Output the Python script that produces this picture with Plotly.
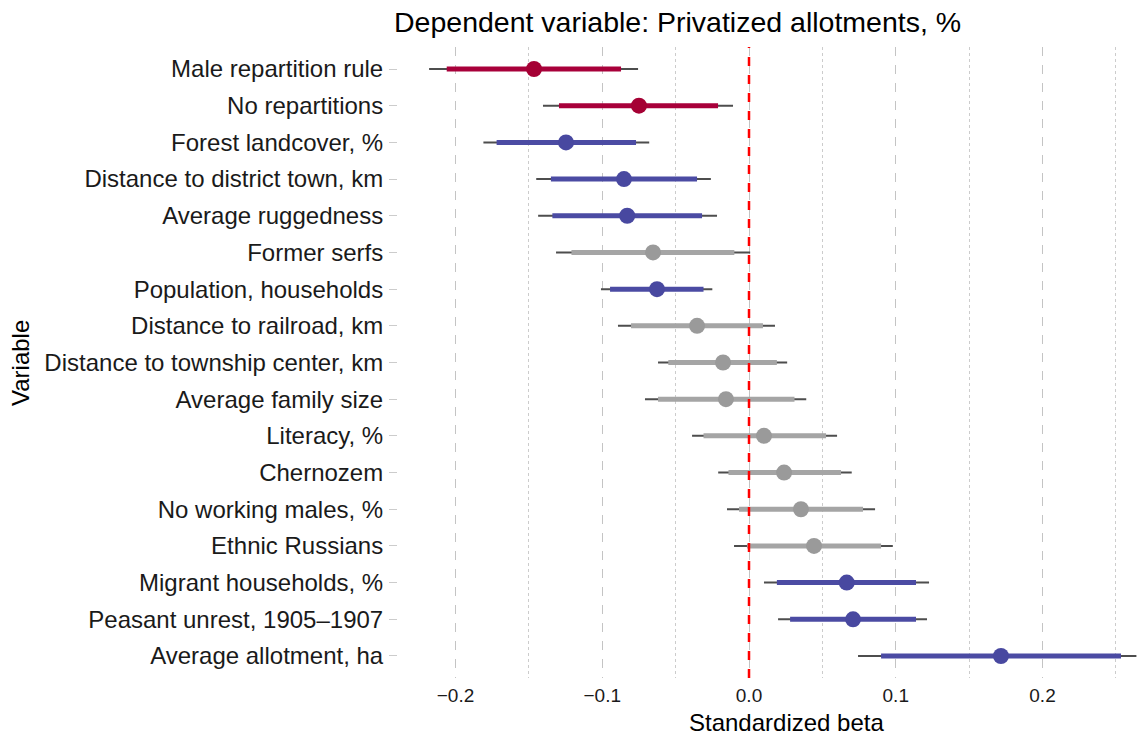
import plotly.graph_objects as go

variables = [
    "Male repartition rule", "No repartitions", "Forest landcover, %",
    "Distance to district town, km", "Average ruggedness", "Former serfs",
    "Population, households", "Distance to railroad, km",
    "Distance to township center, km", "Average family size", "Literacy, %",
    "Chernozem", "No working males, %", "Ethnic Russians",
    "Migrant households, %", "Peasant unrest, 1905–1907", "Average allotment, ha",
]
estimate = [-0.1465, -0.075, -0.1247, -0.0852, -0.083, -0.0654, -0.0627, -0.0354,
            -0.0177, -0.0157, 0.0102, 0.0239, 0.0354, 0.0443, 0.0666, 0.0709, 0.1717]
lo95 = [-0.218, -0.1404, -0.181, -0.145, -0.1437, -0.1315, -0.1009, -0.0893,
        -0.062, -0.0709, -0.0388, -0.021, -0.015, -0.0102, 0.0102, 0.0198, 0.0743]
hi95 = [-0.0756, -0.0109, -0.068, -0.026, -0.0218, 0.0008, -0.025, 0.0177,
        0.026, 0.039, 0.060, 0.070, 0.0859, 0.098, 0.1227, 0.1213, 0.264]
lo90 = [-0.206, -0.1295, -0.172, -0.135, -0.134, -0.121, -0.0947, -0.0804,
        -0.055, -0.062, -0.031, -0.014, -0.0068, -0.0014, 0.019, 0.028, 0.090]
hi90 = [-0.0872, -0.0211, -0.077, -0.0354, -0.032, -0.010, -0.031, 0.0095,
        0.019, 0.031, 0.0525, 0.0627, 0.0777, 0.090, 0.1138, 0.1138, 0.2535]
group = ["neg", "neg", "sig", "sig", "sig", "ns", "sig", "ns", "ns", "ns", "ns",
         "ns", "ns", "ns", "sig", "sig", "sig"]

colors = {"neg": "#A50034", "sig": "#4848A0", "ns": "#9A9A9A"}
thick_colors = {"neg": "#A8003A", "sig": "#4B4BA3", "ns": "#A5A5A5"}

fig = go.Figure()

# thin 95% lines
xs, ys = [], []
for v, a, b in zip(variables, lo95, hi95):
    xs += [a, b, None]
    ys += [v, v, None]
fig.add_trace(go.Scatter(x=xs, y=ys, mode="lines",
                         line=dict(color="#4D4D4D", width=2),
                         showlegend=False, hoverinfo="skip"))

# thick 90% lines per group
for g in ["neg", "sig", "ns"]:
    xs, ys = [], []
    for v, a, b, gg in zip(variables, lo90, hi90, group):
        if gg == g:
            xs += [a, b, None]
            ys += [v, v, None]
    fig.add_trace(go.Scatter(x=xs, y=ys, mode="lines",
                             line=dict(color=thick_colors[g], width=5),
                             showlegend=False, hoverinfo="skip"))

# points
for g in ["neg", "sig", "ns"]:
    px = [e for e, gg in zip(estimate, group) if gg == g]
    py = [v for v, gg in zip(variables, group) if gg == g]
    fig.add_trace(go.Scatter(x=px, y=py, mode="markers",
                             marker=dict(color=colors[g], size=16, line=dict(width=0)),
                             showlegend=False))

fig.add_shape(type="line", xref="x", yref="paper", x0=0, x1=0, y0=0, y1=1,
              line=dict(color="#FF0000", width=2.5, dash="dash"), layer="above")

FONT = "Liberation Sans, Arial, sans-serif"
L, R, T, B = 398, 0, 47, 60
W, H = 1137, 738
pw = W - L - R
ph = H - T - B

fig.update_layout(
    width=W, height=H,
    margin=dict(l=L, r=R, t=T, b=B),
    paper_bgcolor="white", plot_bgcolor="white",
    font=dict(family=FONT, color="black"),
    xaxis=dict(
        range=[-0.2392, 0.2644],
        tickvals=[-0.2, -0.1, 0.0, 0.1, 0.2],
        ticktext=["\u22120.2", "\u22120.1", "0.0", "0.1", "0.2"],
        showgrid=True, gridcolor="#C4C4C4", gridwidth=1, griddash="dash",
        minor=dict(tickvals=[-0.15, -0.05, 0.05, 0.15, 0.25], showgrid=True,
                   gridcolor="#CCCCCC", gridwidth=1, griddash="dot"),
        zeroline=False, showline=False, ticks="",
        ticklabelstandoff=4,
        tickfont=dict(size=19, color="#1A1A1A", family=FONT),
    ),
    yaxis=dict(
        categoryorder="array", categoryarray=variables,
        range=[len(variables) - 0.4, -0.6],
        showgrid=False, zeroline=False, showline=False,
        ticks="outside", ticklen=8, tickcolor="#CCCCCC", tickwidth=1,
        ticklabelstandoff=1,
        tickfont=dict(size=24, color="#1A1A1A", family=FONT),
    ),
    annotations=[
        dict(text="Dependent variable: Privatized allotments, %", xref="paper", yref="paper",
             x=(677 - L) / pw, y=1, yshift=25, xanchor="center", yanchor="middle",
             showarrow=False, font=dict(size=28.5, family=FONT, color="black")),
        dict(text="Standardized beta", xref="paper", yref="paper",
             x=(786 - L) / pw, y=0, yshift=-(722 - (H - B)), xanchor="center", yanchor="middle",
             showarrow=False, font=dict(size=24, family=FONT, color="black")),
        dict(text="Variable", xref="paper", yref="paper",
             x=(20 - L) / pw, y=(H - B - 363) / ph, xanchor="center", yanchor="middle",
             textangle=-90, showarrow=False, font=dict(size=24, family=FONT, color="black")),
    ],
)

fig.write_html("out.html")
